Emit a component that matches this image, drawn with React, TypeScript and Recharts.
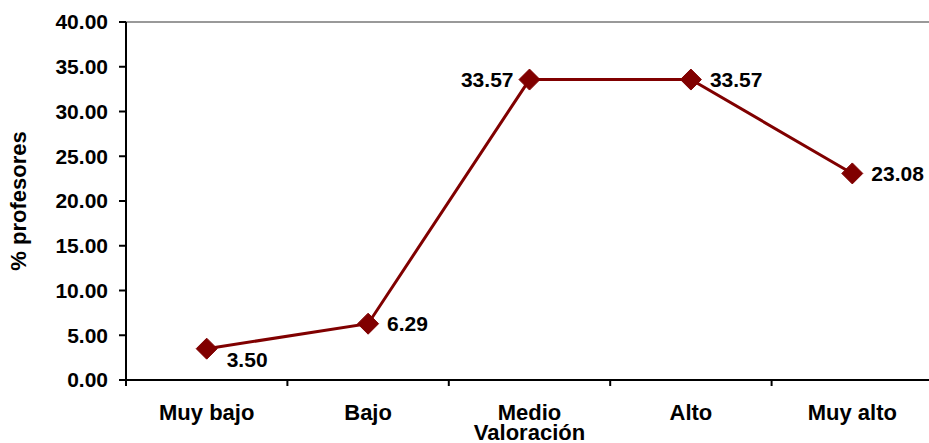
import React from 'react';
import { LineChart, Line, XAxis, YAxis, ReferenceLine, Label } from 'recharts';

const categories = ['Muy bajo', 'Bajo', 'Medio', 'Alto', 'Muy alto'];
const values = [3.5, 6.29, 33.57, 33.57, 23.08];
const yTicks = [0, 5, 10, 15, 20, 25, 30, 35, 40];
const xTicks = [0, 0.5, 1, 1.5, 2, 2.5, 3, 3.5, 4, 4.5, 5];

const data = categories.map((name, i) => ({ x: i + 0.5, name, value: values[i] }));

const FONT = '"Liberation Sans", Arial, sans-serif';
const COLOR = '#800000';

const Diamond = (props: any) => {
  const { cx, cy } = props;
  if (cx == null || cy == null) return null;
  const r = 10.5;
  return (
    <polygon
      points={`${cx},${cy - r} ${cx + r},${cy} ${cx},${cy + r} ${cx - r},${cy}`}
      fill={COLOR}
      stroke={COLOR}
    />
  );
};

const ValueLabel = (props: any) => {
  const { x, y, index, value } = props;
  let tx = x + 19;
  let ty = y;
  let anchor: 'start' | 'end' = 'start';
  if (index === 0) {
    tx = x + 20;
    ty = y + 11;
  }
  if (index === 2) {
    tx = x - 16;
    anchor = 'end';
  }
  return (
    <text
      x={tx}
      y={ty}
      dy="0.36em"
      textAnchor={anchor}
      fontFamily={FONT}
      fontWeight="bold"
      fontSize={21}
      fill="#000"
    >
      {Number(value).toFixed(2)}
    </text>
  );
};

const XTick = (props: any) => {
  const { x, y, payload } = props;
  const v = payload.value;
  if (Number.isInteger(v)) {
    return <line x1={x} x2={x} y1={y - 8} y2={y - 2} stroke="#000" strokeWidth={2} />;
  }
  const idx = Math.round(v - 0.5);
  return (
    <text
      x={x}
      y={y + 24}
      dy="0.36em"
      textAnchor="middle"
      fontFamily={FONT}
      fontWeight="bold"
      fontSize={22}
      fill="#000"
    >
      {categories[idx]}
    </text>
  );
};

export default function App() {
  return (
    <div style={{ position: 'absolute', left: 0, top: 0, width: 929, height: 443, overflow: 'hidden', background: '#fff' }}>
      <LineChart
        width={940}
        height={443}
        data={data}
        margin={{ top: 22, right: 7, bottom: 0, left: 0 }}
      >
        <ReferenceLine y={40} stroke="#999" strokeWidth={2} />
        <XAxis
          dataKey="x"
          type="number"
          domain={[0, 5]}
          ticks={xTicks}
          interval={0}
          height={63}
          tickLine={false}
          tick={<XTick />}
          axisLine={{ stroke: '#000', strokeWidth: 2 }}
        >
          <Label
            value="Valoración"
            position="insideBottom"
            offset={0}
            dy={-3}
            style={{ fontFamily: FONT, fontWeight: 'bold', fontSize: 22, fill: '#000' }}
          />
        </XAxis>
        <YAxis
          domain={[0, 40]}
          ticks={yTicks}
          interval={0}
          width={126}
          tickSize={7}
          tickMargin={11}
          tickFormatter={(v: number) => v.toFixed(2)}
          tick={{ fontFamily: FONT, fontWeight: 'bold', fontSize: 21, fill: '#000' }}
          tickLine={{ stroke: '#000', strokeWidth: 2 }}
          axisLine={{ stroke: '#000', strokeWidth: 2 }}
        >
          <Label
            value="% profesores"
            angle={-90}
            position="insideLeft"
            offset={18}
            style={{ fontFamily: FONT, fontWeight: 'bold', fontSize: 22, fill: '#000', textAnchor: 'middle' }}
          />
        </YAxis>
        <Line
          dataKey="value"
          stroke={COLOR}
          strokeWidth={3}
          dot={<Diamond />}
          activeDot={false}
          isAnimationActive={false}
          label={<ValueLabel />}
        />
      </LineChart>
    </div>
  );
}
